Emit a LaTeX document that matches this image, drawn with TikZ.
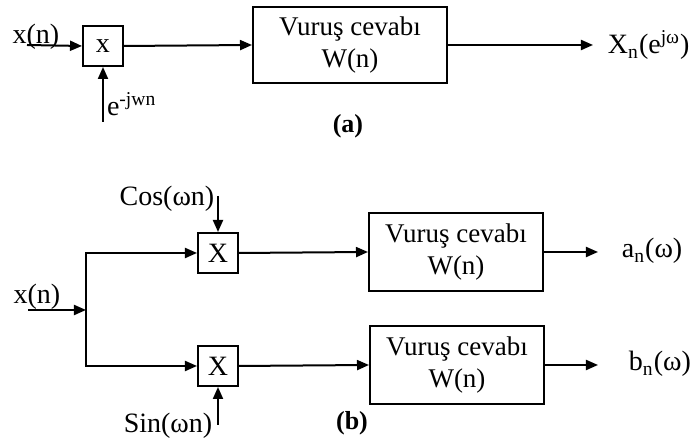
\documentclass[tikz,border=0pt]{standalone}
\usepackage{fontspec}
\setmainfont{Liberation Serif}
\usetikzlibrary{arrows.meta, positioning}

\begin{document}
\begin{tikzpicture}[x=0.5pt, y=-0.5pt, line width=1pt,
  >={Triangle[length=6pt,width=5pt]},
  block/.style={rectangle, draw, inner sep=0pt, align=center,
    font=\fontsize{13.5}{16}\selectfont},
  mult/.style={rectangle, draw, inner sep=0pt, minimum width=20pt,
    minimum height=20pt, font=\fontsize{14}{16}\selectfont},
  sig/.style={inner sep=1pt, font=\fontsize{14}{16}\selectfont},
  figcap/.style={font=\fontsize{13}{15}\selectfont\bfseries}]
  \useasboundingbox (0,0) rectangle (693,442);

  % (a)
  \node[mult] (m1) at (103,46) {x};
  \node[block, minimum width=97pt, minimum height=38pt] (w1) at (350,45) {Vuruş cevabı\\W(n)};
  \coordinate (in1) at (27,45);
  \coordinate (e1) at (103,122);
  \coordinate (o1) at (593,45);
  \node[sig] (xa) at (36,37) {x(n)};
  \node[sig, anchor=west] (ea) at (104,104) {e\textsuperscript{-jwn}};
  \node[sig, anchor=west] (ya) at (605,45) {X\textsubscript{n}(e\textsuperscript{jω})};
  \node[figcap] (capa) at (348,126) {(a)};
  \draw[->] (in1) -- (m1.west);
  \draw[->] (e1) -- (m1.south);
  \draw[->] (m1.east) -- (w1.west);
  \draw[->] (w1.east) -- (o1);

  % (b)
  \node[mult] (m2) at (218,253) {X};
  \node[mult] (m3) at (218,366) {X};
  \node[block, minimum width=87pt, minimum height=39pt] (w2) at (456,252) {Vuruş cevabı\\W(n)};
  \node[block, minimum width=87pt, minimum height=39pt] (w3) at (457,365) {Vuruş cevabı\\W(n)};
  \coordinate (in2) at (28,310);
  \coordinate (j) at (86,310);
  \coordinate (c2) at (218,196);
  \coordinate (s3) at (218,425);
  \coordinate (o2) at (598,252);
  \coordinate (o3) at (598,365);
  \node[sig] (xb) at (37,297) {x(n)};
  \node[sig] (cb) at (167,199) {Cos(ωn)};
  \node[sig] (sb) at (168,426) {Sin(ωn)};
  \node[sig, anchor=west] (an) at (619,251) {a\textsubscript{n}(ω)};
  \node[sig, anchor=west] (bn) at (626,364) {b\textsubscript{n}(ω)};
  \node[figcap] (capb) at (352,423) {(b)};
  \draw[->] (in2) -- (j);
  \draw[->] (j) |- (m2.west);
  \draw[->] (j) |- (m3.west);
  \draw[->] (c2) -- (m2.north);
  \draw[->] (s3) -- (m3.south);
  \draw[->] (m2.east) -- (w2.west);
  \draw[->] (m3.east) -- (w3.west);
  \draw[->] (w2.east) -- (o2);
  \draw[->] (w3.east) -- (o3);
\end{tikzpicture}
\end{document}
